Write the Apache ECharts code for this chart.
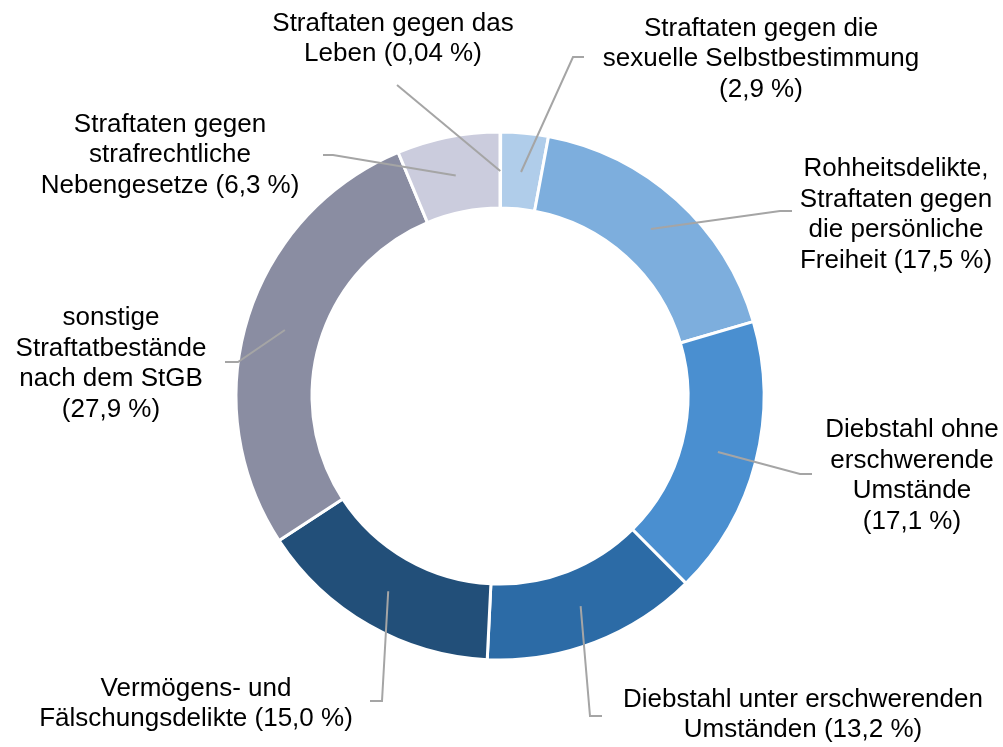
<!DOCTYPE html>
<html lang="de">
<head>
<meta charset="utf-8">
<script src="https://cdn.jsdelivr.net/npm/echarts@6/dist/echarts.min.js"></script>
</head>
<body style="margin: 0">
<div id="main" style="width: 1003px; height: 747px"></div>
<script>
// Kategorien (Reihenfolge im Uhrzeigersinn ab 12 Uhr)
var categories = [
	'Straftaten gegen das\nLeben',
	'Straftaten gegen die\nsexuelle Selbstbestimmung',
	'Rohheitsdelikte,\nStraftaten gegen\ndie persönliche\nFreiheit',
	'Diebstahl ohne\nerschwerende\nUmstände',
	'Diebstahl unter erschwerenden\nUmständen',
	'Vermögens- und\nFälschungsdelikte',
	'sonstige\nStraftatbestände\nnach dem StGB',
	'Straftaten gegen\nstrafrechtliche\nNebengesetze'
];
var values = [0.04, 2.9, 17.5, 17.1, 13.2, 15.0, 27.9, 6.3];
// Trenner vor der Prozentangabe
var pctSep = [' ', '\n', ' ', '\n', ' ', ' ', '\n', ' '];

var colors = ['#CBCCDD', '#B0CDEA', '#7DAEDD', '#4A8FD0', '#2C6BA6', '#224F79', '#8A8DA2', '#CBCCDD'];

// Lage der Beschriftungen (Blockmitte) und Knick/Ende der Führungslinien
var labelPos = [[393, 39], [761, 59], [896, 215], [912, 476], [803, 715], [196, 704], [111, 364], [170, 155]];
var lineBend = [[397, 85], [573, 57], [780, 211], [800, 474], [590, 716], [382, 701], [238, 362], [333, 155]];
var lineEnd = [[397, 85], [584, 57], [792, 211], [812, 474], [602, 716], [370, 701], [225, 362], [323, 155]];

function fmt(v) {
	return (v < 0.1 ? v.toFixed(2) : v.toFixed(1)).replace('.', ',')
}

var ring = categories.map(function (c, i) {
	return { name: c, value: values[i], itemStyle: { color: colors[i] } }
})
var labelData = categories.map(function (c, i) {
	return { name: c + pctSep[i] + '(' + fmt(values[i]) + ' %)', value: values[i] }
})

var chart = echarts.init(document.getElementById('main'))
chart.setOption({
	backgroundColor: '#ffffff',
	animation: false,
	series: [{
		type: 'pie',
		center: [500, 396],
		radius: [188, 264],
		startAngle: 90,
		silent: true,
		label: { show: false },
		labelLine: { show: false },
		itemStyle: { borderColor: '#ffffff', borderWidth: 3 },
		data: ring
	}, {
		// unsichtbarer Ring fuer Beschriftungen, Linien starten in der Ringmitte
		type: 'pie',
		center: [500, 396],
		radius: [0, 225],
		startAngle: 90,
		silent: true,
		z: 5,
		avoidLabelOverlap: false,
		itemStyle: { color: 'rgba(0,0,0,0)' },
		label: {
			show: true,
			position: 'outside',
			formatter: '{b}',
			fontFamily: '"Liberation Sans", Arial, sans-serif',
			fontSize: 26,
			lineHeight: 30.5,
			color: '#000000',
			align: 'center'
		},
		labelLine: {
			show: true,
			length: 0,
			length2: 0,
			lineStyle: { color: '#A5A5A5', width: 2 }
		},
		labelLayout: function (p) {
			var i = p.dataIndex
			var start = p.labelLinePoints ? p.labelLinePoints[0] : lineBend[i]
			return {
				x: labelPos[i][0],
				y: labelPos[i][1],
				align: 'center',
				verticalAlign: 'middle',
				labelLinePoints: [start, lineBend[i], lineEnd[i]]
			}
		},
		data: labelData
	}]
})
</script>
</body>
</html>
